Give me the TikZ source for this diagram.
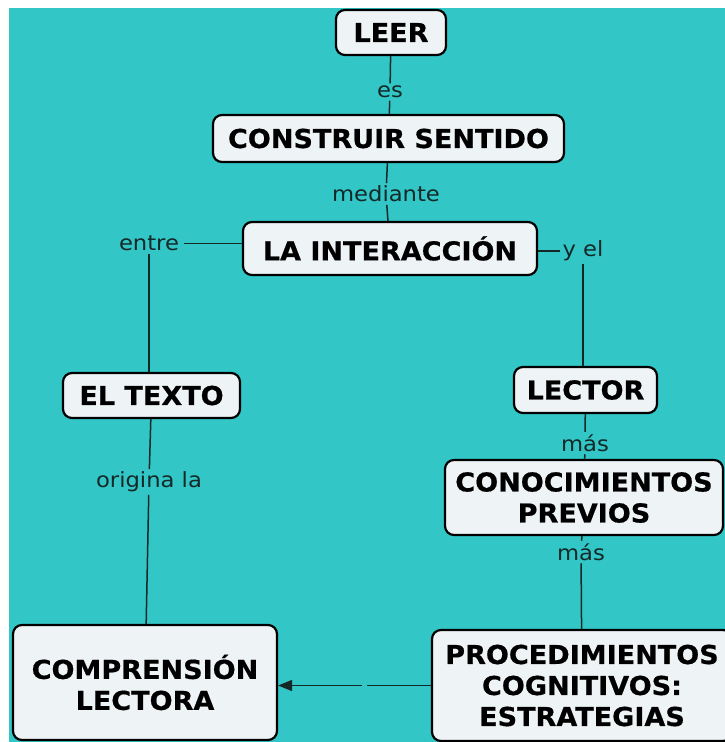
\documentclass[tikz,border=0pt]{standalone}
\usepackage{fontspec}
\setmainfont{DejaVu Sans}[FakeStretch=1.08]
\newfontfamily\conceptfont{DejaVu Sans Bold}[FakeStretch=1.04, FakeBold=0.6]
\usetikzlibrary{arrows.meta}
\definecolor{mapteal}{RGB}{51,198,198}
\definecolor{boxfill}{RGB}{238,243,246}
\definecolor{linkcol}{RGB}{20,40,40}

\begin{document}
\begin{tikzpicture}[x=1pt,y=-1pt,
        concept/.style={draw=black, line width=2.2pt, fill=boxfill, rounded corners=9pt,
            align=center, inner sep=0pt, font=\fontsize{26}{31}\conceptfont},
        linkword/.style={inner xsep=5pt, inner ysep=2.5pt, text=linkcol, font=\fontsize{21}{24}\selectfont},
        link/.style={draw=linkcol, line width=1.5pt}]
            \def\pagearea{(0,0) rectangle (725,742)}
            \def\maparea{(9,8) rectangle (725,742)}

            \useasboundingbox \pagearea;
            \fill[white] \pagearea;
            \fill[mapteal] \maparea;

            % concepts
            \node[concept, minimum width=110pt, minimum height=45pt] (leer) at (391,32.5) {LEER};
            \node[concept, minimum width=351pt, minimum height=47pt] (sentido) at (388.5,138.5) {CONSTRUIR SENTIDO};
            \node[concept, minimum width=294pt, minimum height=53pt] (interaccion) at (390,248.5) {LA INTERACCIÓN};
            \node[concept, minimum width=177pt, minimum height=45pt] (texto) at (151.5,395.5) {EL TEXTO};
            \node[concept, minimum width=143pt, minimum height=46pt] (lector) at (585.5,390) {LECTOR};
            \node[concept, minimum width=278pt, minimum height=75pt] (previos) at (584,497.5) {CONOCIMIENTOS\\PREVIOS};
            \node[concept, minimum width=300pt, minimum height=111pt] (estrategias) at (582,685.5) {PROCEDIMIENTOS\\COGNITIVOS:\\ESTRATEGIAS};
            \node[concept, minimum width=264pt, minimum height=115pt] (comprension) at (145,682.5) {COMPRENSIÓN\\LECTORA};

            % linking words
            \node[linkword] (es) at (390,92) {es};
            \node[linkword] (mediante) at (386,194) {mediante};
            \node[linkword] (entre) at (149,243.5) {entre};
            \node[linkword] (yel) at (583,251) {y el};
            \node[linkword] (mas1) at (585,443) {más};
            \node[linkword] (mas2) at (581,552) {más};
            \node[linkword] (origina) at (149,482) {origina la};
            \node[inner sep=0pt, minimum width=5pt] (gap) at (364.5,685.5) {};

            \draw[link] (leer) -- (es);
            \draw[link] (es) -- (sentido);
            \draw[link] (sentido) -- (mediante);
            \draw[link] (mediante) -- (interaccion);
            \draw[link] (entre.east) -- (entre.east -| interaccion.west);
            \draw[link] (entre.south) -- (entre.south |- texto.north);
            \draw[link] ([xshift=3pt]yel.west) -- (yel.west -| interaccion.east);
            \draw[link] (yel.south) -- (yel.south |- lector.north);
            \draw[link] (lector) -- (mas1);
            \draw[link] (mas1) -- (previos);
            \draw[link] (previos) -- (mas2);
            \draw[link] (mas2) -- (estrategias);
            \draw[link] (texto) -- (origina);
            \draw[link] (origina) -- (comprension);
            \draw[link] (estrategias.west) -- (gap.east);
            \draw[link, -{Triangle[length=14pt,width=11pt]}] (gap.west) -- (gap.west -| comprension.east);
        \end{tikzpicture}
\end{document}
